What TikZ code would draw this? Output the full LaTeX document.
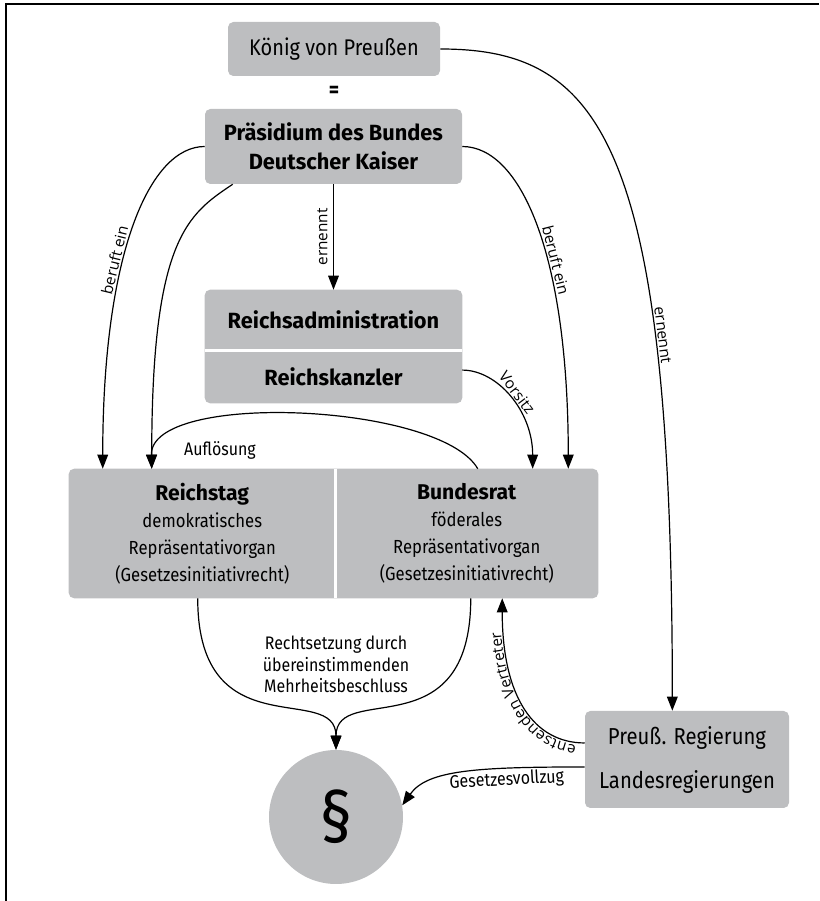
\documentclass[tikz,border=0pt]{standalone}
\usepackage{fontspec}
\setmainfont{Fira Sans}[FakeStretch=0.88]
\newfontfamily\headfont{Fira Sans}[FakeStretch=0.99]
\newfontfamily\lblfont{Open Sans}
\usetikzlibrary{arrows.meta,decorations.text,backgrounds}
\definecolor{boxgray}{RGB}{189,190,192}

\begin{document}
\begin{tikzpicture}[x=0.75pt, y=0.75pt,
    box/.style={fill=boxgray, rounded corners=4pt, inner sep=0pt, align=center},
    half/.style={inner sep=0pt, align=center},
    head/.style={font=\headfont\bfseries\fontsize{16.5}{21.75}\selectfont},
    arr/.style={line width=0.9pt, -{Triangle[length=10.5pt, width=8pt]}},
    lbl/.style={font=\lblfont\fontsize{11.5}{13}\selectfont, inner sep=1.5pt},
    note/.style={font=\fontsize{13.6}{16.1}\selectfont, align=center, inner sep=0pt}]

    % Rahmen
    \useasboundingbox (0,0) rectangle (819,901);
    \draw[line width=1.5pt] (6,0) -- (6,897) -- (819,897);

    % Oben: König und Präsidium
    \node[box, minimum width=159pt, minimum height=40.5pt, font=\fontsize{17}{20}\selectfont] (koenig) at (334,852) {König von Preußen};
    \node[font=\bfseries\fontsize{17}{20}\selectfont] (gleich) at (334,809) {=};
    \node[box, head, minimum width=192.75pt, minimum height=56.25pt] (praes) at (333.5,754.5) {Präsidium des Bundes\\Deutscher Kaiser};

    % Reichsadministration / Reichskanzler
    \node[half, head, minimum width=192.75pt, minimum height=45.4pt] (radmin) at (333.5,580.75) {Reichsadministration};
    \node[half, head, minimum width=192.75pt, minimum height=39.4pt] (rkanz) at (333.5,524.25) {Reichskanzler};

    % Reichstag / Bundesrat
    \node[half, minimum width=199.9pt, minimum height=96.75pt, font=\fontsize{14.2}{20.25}\selectfont] (rtag) at (202.25,367.5) {{\headfont\bfseries\fontsize{16}{20.25}\selectfont Reichstag}\\demokratisches\\Repräsentativorgan\\(Gesetzesinitiativrecht)};
    \node[half, minimum width=196.9pt, minimum height=96.75pt, font=\fontsize{14.2}{20.25}\selectfont] (brat) at (466.75,367.5) {{\headfont\bfseries\fontsize{16}{20.25}\selectfont Bundesrat}\\föderales\\Repräsentativorgan\\(Gesetzesinitiativrecht)};

    % Unten
    \node[box, circle, minimum size=100.5pt, font=\fontsize{54}{54}\selectfont] (para) at (336,84) {§};
    \node[box, minimum width=153pt, minimum height=72.75pt, font=\fontsize{17.3}{33}\selectfont] (preuss) at (687,141.5) {Preuß. Regierung\\Landesregierungen};
    \node[note] (rechts) at (336,236.3) {Rechtsetzung durch\\übereinstimmenden\\Mehrheitsbeschluss};
    \node[note] (aufl) at (220,451) {Auflösung};

    % Grauflächen der Doppelkästen
    \begin{scope}[on background layer]
        \fill[boxgray, rounded corners=4pt] (radmin.north west) rectangle (rkanz.south east);
        \fill[boxgray, rounded corners=4pt] (rtag.north west) rectangle (brat.south east);
        \draw[white, line width=2.25pt] (radmin.south west) -- (radmin.south east);
        \draw[white, line width=2.25pt] (rtag.north east) -- (rtag.south east);
    \end{scope}

    % Verbindungen
    \draw[arr] (koenig.east) .. controls +(160,0) and +(0,570) .. ([xshift=-11pt]preuss.north) node[lbl, pos=0.72, sloped, above] {ernennt};
    \draw[arr] (praes.west) .. controls +(-55,0) and +(0,216) .. ([xshift=25.5pt]rtag.north west) node[lbl, pos=0.6, sloped, above] {beruft ein};
    \draw[arr] ([xshift=21pt]praes.south west) .. controls +(-45,-30) and +(0,230) .. ([xshift=62.25pt]rtag.north west);
    \draw[arr] (praes.south) -- (radmin.north) node[lbl, midway, rotate=90, anchor=south, inner sep=4pt] {ernennt};
    \draw[arr] (praes.east) .. controls +(58,0) and +(0,216) .. ([xshift=-22.5pt]brat.north east) node[lbl, pos=0.6, sloped, above] {beruft ein};
    \draw[arr] ([yshift=5pt]rkanz.east) .. controls +(35,0) and +(0,58) .. ([xshift=148.1pt]brat.north west) node[lbl, pos=0.5, sloped, above] {Vorsitz};
    \draw[arr] ([xshift=106.9pt]brat.north west) .. controls +(-38,66) and +(-2,78) .. ([xshift=62.25pt]rtag.north west);

    % Gesetzgebung und Vollzug
    \draw[arr] ([xshift=-3.4pt]rtag.south) .. controls +(0,-153) and +(0,69) .. (para.north);
    \draw[arr] ([xshift=3pt]brat.south) .. controls +(0,-153) and +(0,69) .. (para.north);
    \draw[arr, postaction={decorate, decoration={text along path, text={|\lblfont\fontsize{11.5}{13}\selectfont|entsenden Vertreter}, text align={left indent=6pt}, raise=2pt}}] ([yshift=12.4pt]preuss.west) .. controls +(-50,0) and +(0,-100) .. ([xshift=26.6pt]brat.south);
    \draw[arr] ([yshift=-5.6pt]preuss.west) .. controls +(-110,0) and +(25,35) .. (para.10) node[note, pos=0.28, sloped, below, inner sep=2pt] {Gesetzesvollzug};
\end{tikzpicture}
\end{document}
